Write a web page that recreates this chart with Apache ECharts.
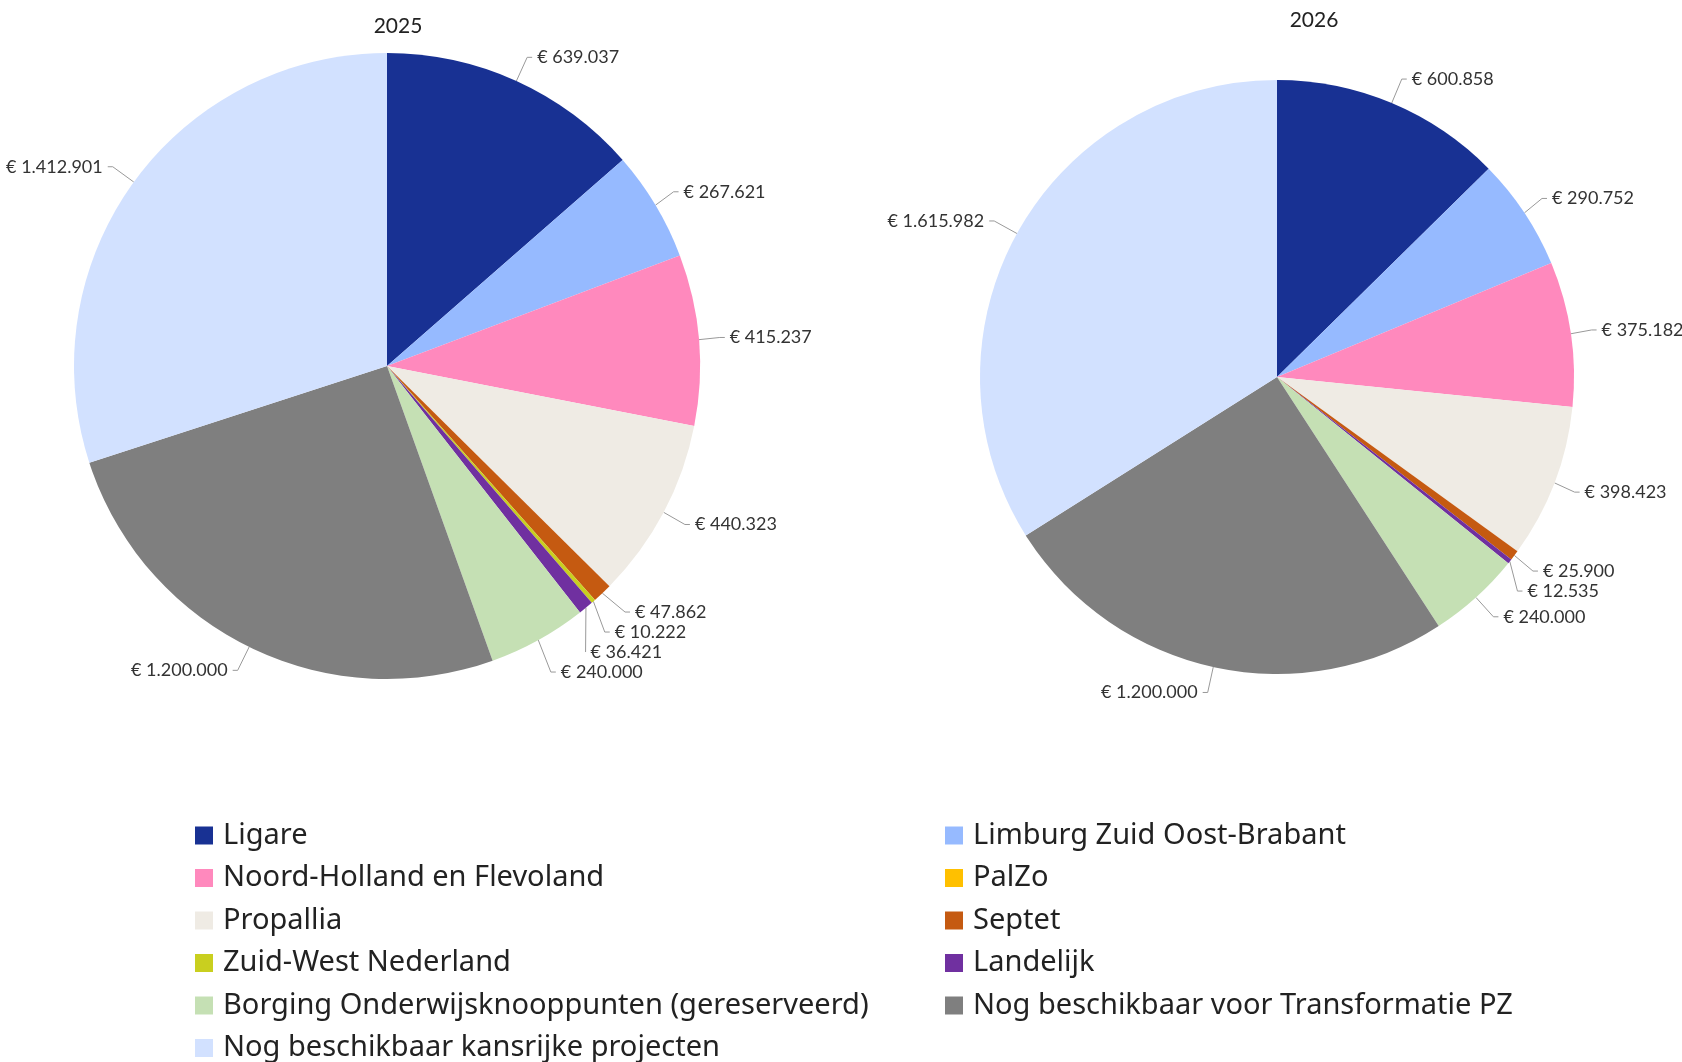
<!DOCTYPE html>
<html>
<head>
<meta charset="utf-8">
<script src="https://cdn.jsdelivr.net/npm/echarts@6/dist/echarts.min.js"></script>
<style>
html,body{margin:0;padding:0;background:#fff;}
#chart{width:1682px;height:1062px;}
</style>
</head>
<body>
<div id="chart"></div>
<script>
// Categories (clockwise order from 12 o'clock)
var categories = [
  'Ligare',
  'Limburg Zuid Oost-Brabant',
  'Noord-Holland en Flevoland',
  'PalZo',
  'Propallia',
  'Septet',
  'Zuid-West Nederland',
  'Landelijk',
  'Borging Onderwijsknooppunten (gereserveerd)',
  'Nog beschikbaar voor Transformatie PZ',
  'Nog beschikbaar kansrijke projecten'
];
var colors = ['#183193','#96baff','#ff89bd','#ffc000','#efebe4','#c55a11','#c9cf1f','#7030a0','#c5e0b4','#7f7f7f','#d2e1ff'];
var values2025 = [639037, 267621, 415237, 0, 440323, 47862, 10222, 36421, 240000, 1200000, 1412901];
var values2026 = [600858, 290752, 375182, 0, 398423, 25900, 0, 12535, 240000, 1200000, 1615982];
var titles = ['2025', '2026'];
var legendLeft = ['Ligare','Noord-Holland en Flevoland','Propallia','Zuid-West Nederland','Borging Onderwijsknooppunten (gereserveerd)','Nog beschikbaar kansrijke projecten'];
var legendRight = ['Limburg Zuid Oost-Brabant','PalZo','Septet','Landelijk','Nog beschikbaar voor Transformatie PZ'];

function fmt(v){ return '€ ' + String(v).replace(/\B(?=(\d{3})+(?!\d))/g, '.'); }
function buildData(vals){
  return categories.map(function(c,i){
    var d = {name:c, value:vals[i], itemStyle:{color:colors[i]}};
    if(!vals[i]){ d.label={show:false}; d.labelLine={show:false}; }
    return d;
  });
}
var labelCfg = {
  show:true, position:'outside', formatter:function(p){return fmt(p.value);},
  fontFamily:'Lato', fontSize:18, color:'#333', overflow:'none'
};
var lineCfg = {show:true, length:26, length2:5, lineStyle:{color:'#999', width:1}};

var legendText = {fontFamily:'Noto Sans', fontSize:29, color:'#222', padding:[0,0,0,5]};
var titleStyle = {fontFamily:'Lato', fontSize:21, fontWeight:'normal', color:'#222'};
var chart = echarts.init(document.getElementById('chart'));
chart.setOption({
  animation:false,
  title:[
    {text:titles[0], left:393, top:21, textAlign:'center', textVerticalAlign:'middle', textStyle:titleStyle},
    {text:titles[1], left:1309, top:15, textAlign:'center', textVerticalAlign:'middle', textStyle:titleStyle}
  ],
  legend:[
    {data:legendLeft, orient:'vertical', left:195, top:821, height:260, padding:0, itemWidth:18, itemHeight:18, itemGap:13.5, icon:'rect', textStyle:legendText, selectedMode:false},
    {data:legendRight, orient:'vertical', left:945, top:821, height:260, padding:0, itemWidth:18, itemHeight:18, itemGap:13.5, icon:'rect', textStyle:legendText, selectedMode:false}
  ],
  series:[
    {type:'pie', name:titles[0], center:[387,366], radius:[0,313], startAngle:90, clockwise:true,
     data:buildData(values2025), label:labelCfg, labelLine:lineCfg, emphasis:{disabled:true}},
    {type:'pie', name:titles[1], center:[1277,377], radius:[0,297], startAngle:90, clockwise:true,
     data:buildData(values2026), label:labelCfg, labelLine:lineCfg, emphasis:{disabled:true}}
  ]
});
</script>
</body>
</html>
